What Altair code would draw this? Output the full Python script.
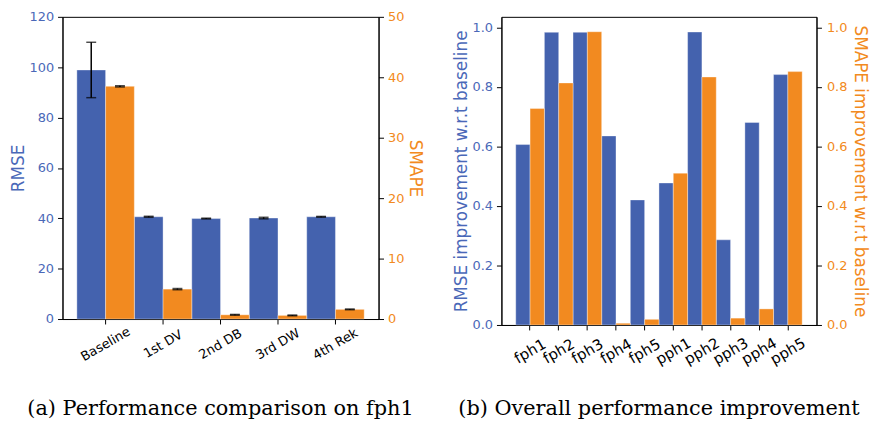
import altair as alt
import pandas as pd

# ---- data (a) performance comparison on fph1 ----
methods = ["Baseline", "1st DV", "2nd DB", "3rd DW", "4th Rek"]
rmse = [98.9, 40.6, 39.9, 40.1, 40.6]
rmse_err = [11.0, 0.2, 0.15, 0.3, 0.15]
smape = [38.5, 4.95, 0.7, 0.6, 1.6]
smape_err = [0.1, 0.1, 0.06, 0.06, 0.06]

# ---- data (b) overall performance improvement ----
horizons = ["fph1", "fph2", "fph3", "fph4", "fph5",
            "pph1", "pph2", "pph3", "pph4", "pph5"]
rmse_imp = [0.606, 0.983, 0.983, 0.635, 0.420, 0.477, 0.984, 0.286, 0.680, 0.841]
smape_imp = [0.727, 0.813, 0.985, 0.006, 0.019, 0.510, 0.833, 0.023, 0.054, 0.851]

BLUE = "#4462ae"
ORANGE = "#f28a20"
BLUE_TXT = "#4a68b8"
ORANGE_TXT = "#f28a20"
SERIES = ["RMSE", "SMAPE"]

df_a = pd.DataFrame({
    "method": methods * 2,
    "series": ["RMSE"] * len(methods) + ["SMAPE"] * len(methods),
    "value": rmse + smape,
    "err": rmse_err + smape_err,
})
df_a["lo"] = df_a["value"] - df_a["err"]
df_a["hi"] = df_a["value"] + df_a["err"]

df_b = pd.DataFrame({
    "horizon": horizons * 2,
    "metric": ["RMSE"] * len(horizons) + ["SMAPE"] * len(horizons),
    "value": rmse_imp + smape_imp,
})


def y_axis(title, color, orient, values, fmt=None, label_pad=4, title_pad=2):
    kw = dict(title=title, titleColor=color, labelColor=color, orient=orient,
              values=values, tickSize=5, labelPadding=label_pad, titlePadding=title_pad,
              labelFontSize=13, titleFontSize=17, grid=False)
    if fmt:
        kw["format"] = fmt
    return alt.Axis(**kw)


# ---------------- panel (a) ----------------
xoff_a = alt.XOffset("series:N", scale=alt.Scale(domain=SERIES, paddingInner=0, paddingOuter=0))
x_a = alt.X("method:N", sort=methods, title=None,
            scale=alt.Scale(paddingInner=0, paddingOuter=0.25),
            axis=alt.Axis(labelAngle=-30, labelAlign="center", labelBaseline="middle",
                          labelPadding=20, labelFontSize=13, labelColor="black",
                          tickSize=5, labelOverlap=False))


def panel_a_layer(series, color, domain, axis):
    src = alt.Chart(df_a).transform_filter(alt.datum.series == series)
    sc = alt.Scale(domain=domain, nice=False)
    bars = src.mark_bar(color=color, stroke="white", strokeWidth=0.6, strokeOpacity=0.6).encode(
        x=x_a, xOffset=xoff_a, y=alt.Y("value:Q", scale=sc, axis=axis, title=series))
    rule = src.mark_rule(color="black", strokeWidth=1.5).encode(
        x=x_a, xOffset=xoff_a, y=alt.Y("lo:Q", scale=sc, title=series), y2="hi:Q")
    cap_lo = src.mark_tick(color="black", size=10, thickness=1.5).encode(
        x=x_a, xOffset=xoff_a, y=alt.Y("lo:Q", scale=sc, title=series))
    cap_hi = src.mark_tick(color="black", size=10, thickness=1.5).encode(
        x=x_a, xOffset=xoff_a, y=alt.Y("hi:Q", scale=sc, title=series))
    return alt.layer(bars, rule, cap_lo, cap_hi)


left = alt.layer(
    panel_a_layer("RMSE", BLUE, [0, 120],
                  y_axis("RMSE", BLUE_TXT, "left", [0, 20, 40, 60, 80, 100, 120])),
    panel_a_layer("SMAPE", ORANGE, [0, 50],
                  y_axis("SMAPE", ORANGE_TXT, "right", [0, 10, 20, 30, 40, 50])),
).resolve_scale(y="independent").properties(
    width=319, height=305,
    title=alt.TitleParams("(a) Performance comparison on fph1", orient="bottom",
                          anchor="middle", frame="group", font="DejaVu Serif",
                          fontSize=21, fontWeight="normal", color="black", offset=35),
)

# ---------------- panel (b) ----------------
xoff_b = alt.XOffset("metric:N", scale=alt.Scale(domain=SERIES, paddingInner=0, paddingOuter=0))
x_b = alt.X("horizon:N", sort=horizons, title=None,
            scale=alt.Scale(paddingInner=0, paddingOuter=0.5),
            axis=alt.Axis(labelAngle=-30, labelAlign="center", labelBaseline="middle",
                          labelPadding=21, labelFontSize=15, labelColor="black",
                          tickSize=5, labelOverlap=False))

ticks_b = [0.0, 0.2, 0.4, 0.6, 0.8, 1.0]


def panel_b_layer(metric, color, axis):
    src = alt.Chart(df_b).transform_filter(alt.datum.metric == metric)
    return src.mark_bar(color=color, stroke="white", strokeWidth=0.6, strokeOpacity=0.6).encode(
        x=x_b, xOffset=xoff_b,
        y=alt.Y("value:Q", scale=alt.Scale(domain=[0, 1.035], nice=False), axis=axis))


right = alt.layer(
    panel_b_layer("RMSE", BLUE,
                  y_axis("RMSE improvement w.r.t baseline", BLUE_TXT, "left", ticks_b, ".1f")),
    panel_b_layer("SMAPE", ORANGE,
                  y_axis("SMAPE improvement w.r.t baseline", ORANGE_TXT, "right", ticks_b, ".1f",
                         label_pad=5, title_pad=4)),
).resolve_scale(y="independent").properties(
    width=318, height=311,
    title=alt.TitleParams("(b) Overall performance improvement", orient="bottom",
                          anchor="middle", frame="group", font="DejaVu Serif",
                          fontSize=21, fontWeight="normal", color="black", offset=31),
)

chart = alt.hconcat(left, right, spacing=124, bounds="flush").resolve_scale(
    xOffset="independent"
).properties(
    padding={"left": 0, "top": 0, "right": 0, "bottom": 0}
).configure_view(stroke="black", strokeWidth=1).configure_axis(
    labelFont="DejaVu Sans", titleFont="DejaVu Sans", titleFontWeight="normal",
    domainColor="black", tickColor="black", grid=False
)

chart.save("out.html", embed_options={"renderer": "svg", "actions": False})
